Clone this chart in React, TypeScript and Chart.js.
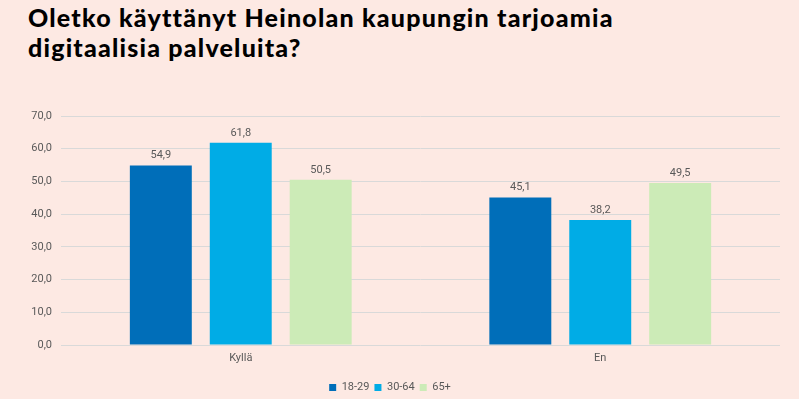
import React, { useEffect, useRef } from "react";
import { Chart, registerables } from "chart.js";

Chart.register(...registerables);

const categories = ["Kyllä", "En"];
const seriesNames = ["18-29", "30-64", "65+"];
const values1829 = [54.9, 45.1];
const values3064 = [61.8, 38.2];
const values65 = [50.5, 49.5];
const colors = ["#006EB9", "#00ACE6", "#CCEBB7"];
const yMax = 70;
const yStep = 10;

const fmt = (v: number) => v.toFixed(1).replace(".", ",");

const BG = "#FDE9E3";

const dataLabelPlugin = {
  id: "dataLabels",
  afterDatasetsDraw(chart: any) {
    const ctx = chart.ctx;
    ctx.save();
    ctx.font = "11px Roboto, 'Open Sans', sans-serif";
    ctx.fillStyle = "#595959";
    ctx.textAlign = "center";
    ctx.textBaseline = "middle";
    chart.data.datasets.forEach((ds: any, i: number) => {
      const meta = chart.getDatasetMeta(i);
      meta.data.forEach((el: any, j: number) => {
        ctx.fillText(fmt(ds.data[j]), el.x, el.y - 10);
      });
    });
    ctx.restore();
  },
};

export default function App() {
  const ref = useRef<HTMLCanvasElement>(null);
  useEffect(() => {
    const chart = new Chart(ref.current!, {
      type: "bar",
      data: {
        labels: categories,
        datasets: [values1829, values3064, values65].map((d, i) => ({
          label: seriesNames[i],
          data: d,
          backgroundColor: colors[i],
          categoryPercentage: 0.667,
          barPercentage: 0.775,
        })),
      },
      options: {
        animation: false,
        responsive: false,
        maintainAspectRatio: false,
        layout: { padding: { top: 116, right: 19, left: 0, bottom: -4 } },
        scales: {
          x: {
            grid: { display: false, drawTicks: false },
            border: { display: false },
            afterFit(axis: any) {
              axis.height = 32;
            },
            ticks: {
              color: "#595959",
              font: { size: 11, family: "Roboto, 'Open Sans', sans-serif" },
              padding: 7,
            },
          },
          y: {
            min: 0,
            max: yMax,
            afterFit(axis: any) {
              axis.width = 61;
            },
            grid: { color: "#D9D9D9", drawTicks: false, lineWidth: 1 },
            border: { display: false },
            ticks: {
              stepSize: yStep,
              padding: 9,
              color: "#595959",
              font: { size: 11, family: "Roboto, 'Open Sans', sans-serif" },
              callback: (v: any) => fmt(Number(v)),
            },
          },
        },
        plugins: {
          legend: {
            position: "bottom",
            labels: {
              boxWidth: 7,
              boxHeight: 7,
              padding: 5,
              color: "#595959",
              font: { size: 11, family: "Roboto, 'Open Sans', sans-serif" },
            },
          },
          tooltip: { enabled: false },
        },
      },
      plugins: [dataLabelPlugin],
    });
    return () => chart.destroy();
  }, []);

  return (
    <div
      style={{
        position: "fixed",
        left: 0,
        top: 0,
        width: 799,
        height: 399,
        background: BG,
        overflow: "hidden",
      }}
    >
      <div
        style={{
          position: "absolute",
          left: 28,
          top: 2,
          fontFamily: "Lato, sans-serif",
          fontWeight: 900,
          fontSize: 25,
          letterSpacing: "1.2px",
          lineHeight: "30px",
          color: "#000",
          whiteSpace: "nowrap",
        }}
      >
        Oletko käyttänyt Heinolan kaupungin tarjoamia
        <br />
        digitaalisia palveluita?
      </div>
      <canvas
        ref={ref}
        width={799}
        height={399}
        style={{ position: "absolute", left: 0, top: 0 }}
      />
    </div>
  );
}
